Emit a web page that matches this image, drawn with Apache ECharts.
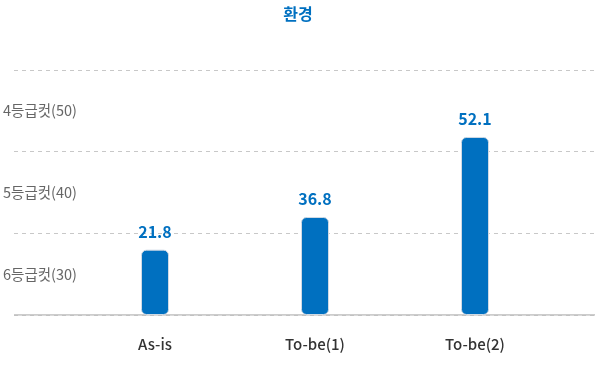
<!DOCTYPE html>
<html><head><meta charset="utf-8">
<script src="https://cdn.jsdelivr.net/npm/echarts@6/dist/echarts.min.js"></script>
<style>html,body{margin:0;padding:0;background:#fff}#c{width:596px;height:366px}</style>
</head><body><div id="c"></div>
<script>
const title = '환경';
const categories = ['As-is', 'To-be(1)', 'To-be(2)'];
const scores = [21.8, 36.8, 52.1];            // displayed values
const barLevels = [0.80, 1.20, 2.18];         // bar height in grade-band units
const gradeLabels = ['', '6등급컷(30)', '', '5등급컷(40)', '', '4등급컷(50)', ''];
const font = '"Noto Sans CJK KR", "Noto Sans", sans-serif';

const chart = echarts.init(document.getElementById('c'), null, {renderer: 'canvas'});
chart.setOption({
  animation: false,
  title: {text: title, left: 'center', top: 1,
    textStyle: {color: '#0070c0', fontSize: 16, fontWeight: 'bold', fontFamily: font}},
  grid: [
    {left: 14, right: 1, top: 70, bottom: 51, outerBoundsMode: 'none', containLabel: false},
    {left: 75, right: 41, top: 70, bottom: 51, outerBoundsMode: 'none', containLabel: false}
  ],
  xAxis: [
    {gridIndex: 0, type: 'value', min: 0, max: 1, show: true,
      axisLine: {show: false}, axisTick: {show: false}, axisLabel: {show: false}, splitLine: {show: false}},
    {gridIndex: 1, type: 'category', data: categories,
      axisLine: {show: false}, axisTick: {show: false},
      axisLabel: {color: '#333', fontSize: 15, fontWeight: 500, fontFamily: font, margin: 22}}
  ],
  yAxis: [
    {gridIndex: 0, type: 'value', min: 0, max: 3, interval: 1, position: 'left',
      axisLine: {show: false}, axisTick: {show: false}, axisLabel: {show: false},
      splitLine: {show: true, lineStyle: {color: '#c8c8c8', type: [4, 4], width: 1}}},
    {gridIndex: 0, type: 'value', min: 0, max: 3, interval: 0.5, position: 'left', offset: 0,
      axisLine: {show: false}, axisTick: {show: false}, splitLine: {show: false},
      axisLabel: {show: true, align: 'left', margin: 11, color: '#666', fontSize: 14.5, fontFamily: font,
        formatter: (v) => gradeLabels[Math.round(v * 2)] || ''}},
    {gridIndex: 1, type: 'value', min: 0, max: 3, interval: 1, show: false}
  ],
  series: [
    {type: 'line', xAxisIndex: 0, yAxisIndex: 0, data: [[0, 0], [1, 0]], symbol: 'none', silent: true,
      lineStyle: {color: '#bbb', width: 1.5}, z: 1},
    {type: 'bar', xAxisIndex: 1, yAxisIndex: 2, barWidth: 28, z: 3,
      data: barLevels.map((v, i) => ({value: v, score: scores[i]})),
      itemStyle: {color: '#0070c0', borderRadius: 5, borderColor: '#d0dae4', borderWidth: 1},
      label: {show: true, position: 'top', distance: 10, color: '#0070c0', fontSize: 16, fontWeight: 'bold',
        fontFamily: font, formatter: (p) => scores[p.dataIndex].toFixed(1)}}
  ]
});
</script></body></html>
